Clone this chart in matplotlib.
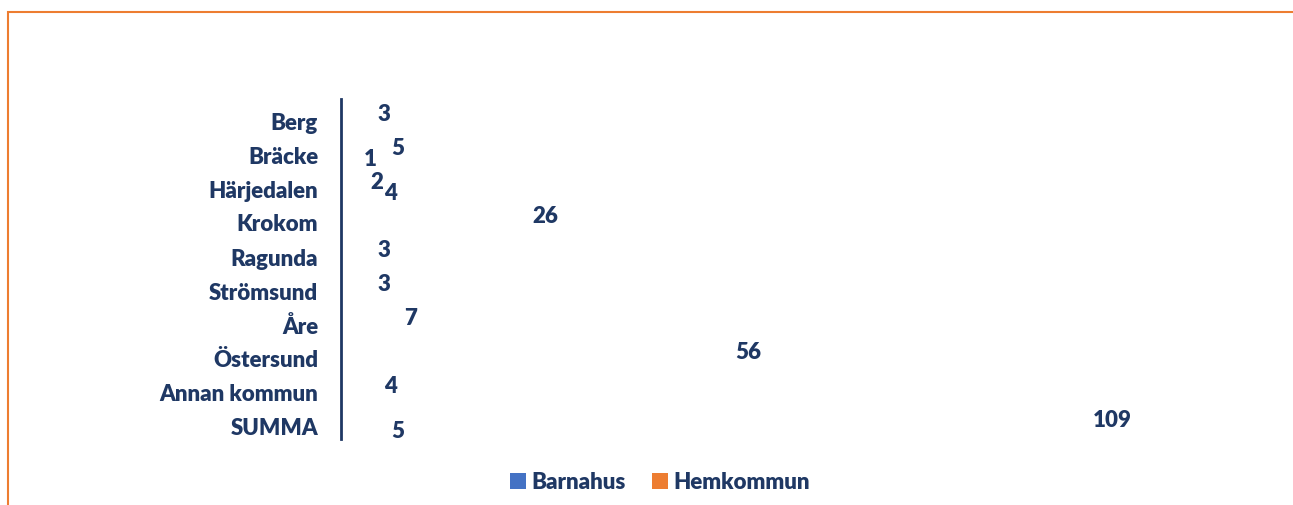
import numpy as np
import matplotlib.pyplot as plt
import matplotlib.transforms as mtransforms
from matplotlib.patches import Patch, Rectangle

# --- Data
kommuner = ["Berg", "Bräcke", "Härjedalen", "Krokom", "Ragunda",
            "Strömsund", "Åre", "Östersund", "Annan kommun", "SUMMA"]
barnahus = [3, 5, 2, 26, 3, 3, 7, 56, 4, 109]
hemkommun = [0, 1, 4, 0, 0, 0, 0, 0, 0, 5]

text_color = "#1F3864"
blue = "#4472C4"
orange = "#ED7D31"

plt.rcParams['font.family'] = ['Lato', 'DejaVu Sans']

fig = plt.figure(figsize=(12.93, 5.06), dpi=100)
ax = fig.add_axes([341 / 1293, 1 - 440 / 506, 810 / 1293, 340 / 506])

y = np.arange(len(kommuner))
bar_h = 0.33

# bars are not filled in the original, only labels show
bars_b = ax.barh(y - bar_h / 2, barnahus, height=bar_h, color="none")
bars_h = ax.barh(y + bar_h / 2, hemkommun, height=bar_h, color="none")

for bars, vals in [(bars_b, barnahus), (bars_h, hemkommun)]:
    for rect, v in zip(bars, vals):
        if v == 0:
            continue
        ax.annotate(str(v),
                    xy=(rect.get_width(), rect.get_y() + rect.get_height() / 2),
                    xytext=(16, -3), textcoords="offset pixels",
                    ha="left", va="center", fontsize=16,
                    fontweight="heavy", color=text_color)

# --- Axes
ax.set_xlim(0, 120)
ax.set_ylim(len(kommuner) - 0.5, -0.5)
ax.set_yticks(y)
ax.set_yticklabels(kommuner, fontsize=16, fontweight="heavy", color=text_color)
ax.tick_params(axis="y", length=0, pad=16.5)
shift = mtransforms.ScaledTranslation(0, -4 / 100, fig.dpi_scale_trans)
for lbl in ax.get_yticklabels():
    lbl.set_transform(lbl.get_transform() + shift)
ax.set_xticks([])
for side in ["top", "right", "bottom"]:
    ax.spines[side].set_visible(False)
ax.spines["left"].set_color(text_color)
ax.spines["left"].set_linewidth(2)

# --- Legend
handles = [Patch(facecolor=blue, edgecolor="none", label="Barnahus"),
           Patch(facecolor=orange, edgecolor="none", label="Hemkommun")]
leg = fig.legend(handles=handles, loc="center", bbox_to_anchor=(660 / 1293, 1 - 483 / 506),
                 ncol=2, frameon=False, fontsize=16, labelcolor=text_color,
                 handlelength=0.7, handleheight=0.7, handletextpad=0.25, columnspacing=1.2)
for t in leg.get_texts():
    t.set_fontweight("heavy")

# --- Orange frame (runs off the right and bottom edge)
fig.patches.append(Rectangle((8 / 1293, -0.05), 1.05, 1 - 12.5 / 506 + 0.05,
                             transform=fig.transFigure, fill=False,
                             edgecolor=orange, linewidth=1.5))

fig.savefig("out.png", dpi=100)
